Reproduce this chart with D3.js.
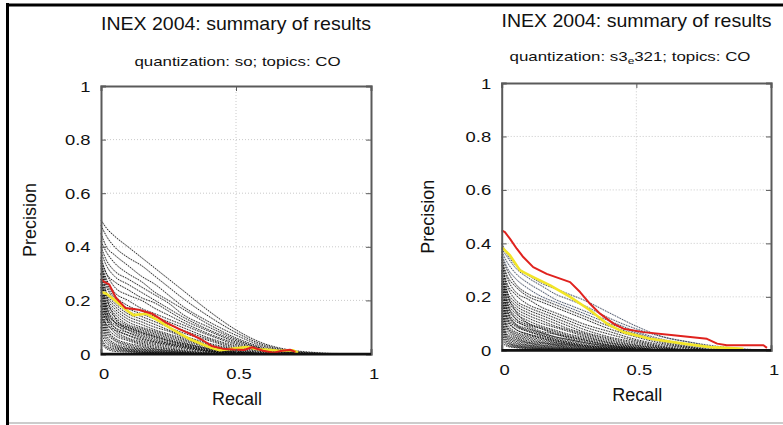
<!DOCTYPE html>
<html><head><meta charset="utf-8">
<script src="https://cdn.jsdelivr.net/npm/d3@7"></script>
<style>body{margin:0;background:#fff}svg{display:block}text{font-family:"Liberation Sans",Arial,sans-serif;fill:#111}</style>
</head><body><svg id="c" width="783" height="425"></svg>
<script>
// ---------- data ----------
const titleText = "INEX 2004: summary of results";
const leftSubtitle = "quantization: so; topics: CO";
const rightSubtitleParts = ["quantization: s3", "e", "321; topics: CO"];
const xTicks = [0, 0.5, 1];
const xTickLabels = ["0", "0.5", "1"];
const yTicks = [0, 0.2, 0.4, 0.6, 0.8, 1];
const yTickLabels = ["0", "0.2", "0.4", "0.6", "0.8", "1"];
const xLabel = "Recall";
const yLabel = "Precision";

// recall points shared by the (black, dotted) runs
const recallGrid = [0, 0.02, 0.05, 0.1, 0.15, 0.2, 0.25, 0.3, 0.4, 0.5, 0.6, 0.7, 0.8, 0.9, 1];

const leftRuns = [
  [0.50,0.47,0.44,0.40,0.36,0.32,0.28,0.24,0.16,0.09,0.04,0.015,0.005,0],
  [0.48,0.44,0.40,0.36,0.33,0.29,0.25,0.21,0.14,0.08,0.035,0.012,0.003,0],
  [0.45,0.40,0.37,0.33,0.29,0.26,0.22,0.18,0.12,0.07,0.03,0.01,0.002,0],
  [0.42,0.38,0.34,0.30,0.27,0.23,0.20,0.17,0.11,0.06,0.025,0.008,0],
  [0.40,0.35,0.31,0.28,0.25,0.22,0.19,0.15,0.10,0.055,0.02,0.006,0],
  [0.38,0.33,0.29,0.26,0.23,0.20,0.17,0.14,0.09,0.05,0.02,0.005,0],
  [0.36,0.30,0.27,0.24,0.21,0.19,0.16,0.13,0.085,0.045,0.018,0.004,0],
  [0.35,0.30,0.25,0.22,0.20,0.17,0.145,0.12,0.075,0.04,0.015,0.003,0],
  [0.34,0.28,0.23,0.20,0.17,0.15,0.13,0.11,0.07,0.035,0.012,0],
  [0.33,0.27,0.22,0.18,0.16,0.14,0.12,0.10,0.06,0.03,0.01,0],
  [0.32,0.26,0.21,0.17,0.15,0.13,0.11,0.09,0.055,0.025,0.008,0],
  [0.30,0.25,0.20,0.16,0.14,0.12,0.10,0.08,0.05,0.02,0.005,0],
  [0.30,0.23,0.19,0.15,0.13,0.11,0.09,0.07,0.04,0.018,0.004,0],
  [0.28,0.22,0.18,0.14,0.12,0.10,0.085,0.065,0.035,0.015,0],
  [0.27,0.21,0.17,0.13,0.11,0.09,0.075,0.06,0.03,0.012,0],
  [0.26,0.20,0.16,0.12,0.10,0.085,0.07,0.055,0.028,0.01,0],
  [0.25,0.19,0.15,0.11,0.095,0.08,0.065,0.05,0.025,0.008,0],
  [0.24,0.18,0.14,0.105,0.09,0.075,0.06,0.045,0.02,0.006,0],
  [0.23,0.17,0.13,0.10,0.085,0.07,0.055,0.04,0.018,0.005,0],
  [0.22,0.16,0.12,0.095,0.08,0.065,0.05,0.035,0.015,0.004,0],
  [0.35,0.22,0.14,0.09,0.07,0.055,0.04,0.03,0.012,0.003,0],
  [0.30,0.18,0.12,0.08,0.06,0.045,0.035,0.025,0.01,0],
  [0.28,0.16,0.10,0.07,0.05,0.04,0.03,0.02,0.008,0],
  [0.25,0.14,0.09,0.06,0.045,0.035,0.025,0.015,0.005,0],
  [0.22,0.13,0.08,0.055,0.04,0.03,0.02,0.012,0.004,0],
  [0.20,0.11,0.07,0.05,0.035,0.025,0.018,0.01,0.003,0],
  [0.18,0.10,0.06,0.04,0.03,0.02,0.014,0.008,0],
  [0.16,0.09,0.055,0.035,0.025,0.018,0.012,0.006,0],
  [0.15,0.08,0.05,0.03,0.02,0.015,0.01,0.005,0],
  [0.13,0.07,0.04,0.025,0.018,0.012,0.008,0.004,0],
  [0.12,0.06,0.035,0.02,0.015,0.01,0.006,0.003,0],
  [0.10,0.05,0.03,0.018,0.012,0.008,0.005,0.002,0],
  [0.08,0.04,0.025,0.015,0.01,0.006,0.004,0],
  [0.06,0.03,0.02,0.012,0.008,0.005,0.003,0],
  [0.05,0.025,0.015,0.01,0.006,0.004,0],
  [0.04,0.02,0.01,0.007,0.005,0.003,0],
  [0.20,0.15,0.12,0.10,0.08,0.065,0.05,0.04,0.02,0.008,0],
  [0.18,0.14,0.11,0.09,0.075,0.06,0.045,0.035,0.015,0.005,0],
  [0.16,0.13,0.10,0.08,0.065,0.05,0.04,0.03,0.012,0.003,0],
  [0.14,0.11,0.09,0.07,0.055,0.045,0.035,0.025,0.01,0]
];

const rightRuns = [
  [0.40,0.36,0.32,0.28,0.25,0.23,0.21,0.19,0.14,0.09,0.05,0.03,0.015,0.005,0],
  [0.38,0.35,0.31,0.27,0.24,0.21,0.19,0.17,0.12,0.08,0.05,0.03,0.01,0],
  [0.37,0.33,0.29,0.25,0.22,0.19,0.17,0.15,0.11,0.07,0.04,0.02,0.008,0],
  [0.36,0.31,0.27,0.23,0.20,0.18,0.16,0.14,0.10,0.065,0.035,0.015,0.005,0],
  [0.35,0.30,0.25,0.21,0.19,0.17,0.15,0.13,0.09,0.06,0.03,0.012,0],
  [0.34,0.28,0.24,0.20,0.18,0.16,0.14,0.12,0.08,0.05,0.025,0.01,0],
  [0.33,0.27,0.22,0.19,0.16,0.14,0.12,0.10,0.07,0.04,0.02,0.008,0],
  [0.32,0.25,0.21,0.17,0.15,0.13,0.11,0.09,0.06,0.035,0.015,0.005,0],
  [0.30,0.24,0.19,0.16,0.14,0.12,0.10,0.08,0.05,0.03,0.012,0],
  [0.29,0.22,0.18,0.15,0.13,0.11,0.09,0.07,0.045,0.025,0.01,0],
  [0.28,0.21,0.17,0.14,0.12,0.10,0.08,0.065,0.04,0.02,0.008,0],
  [0.27,0.20,0.16,0.13,0.11,0.09,0.075,0.06,0.035,0.018,0.006,0],
  [0.26,0.19,0.15,0.12,0.10,0.085,0.07,0.055,0.03,0.015,0.005,0],
  [0.25,0.18,0.14,0.11,0.09,0.075,0.06,0.05,0.028,0.012,0],
  [0.24,0.17,0.13,0.10,0.085,0.07,0.055,0.045,0.025,0.01,0],
  [0.23,0.16,0.12,0.095,0.08,0.065,0.05,0.04,0.02,0.008,0],
  [0.22,0.15,0.11,0.09,0.07,0.06,0.045,0.035,0.018,0.006,0],
  [0.21,0.14,0.10,0.08,0.065,0.05,0.04,0.03,0.015,0.005,0],
  [0.20,0.13,0.095,0.075,0.06,0.045,0.035,0.025,0.012,0.004,0],
  [0.19,0.12,0.09,0.07,0.055,0.04,0.03,0.02,0.01,0.003,0],
  [0.18,0.11,0.08,0.06,0.05,0.035,0.025,0.018,0.008,0],
  [0.17,0.10,0.07,0.055,0.045,0.03,0.022,0.015,0.006,0],
  [0.16,0.09,0.065,0.05,0.04,0.028,0.02,0.012,0.005,0],
  [0.15,0.085,0.06,0.045,0.035,0.025,0.018,0.01,0.004,0],
  [0.14,0.08,0.055,0.04,0.03,0.022,0.015,0.008,0.003,0],
  [0.13,0.07,0.05,0.035,0.028,0.02,0.012,0.006,0],
  [0.12,0.06,0.045,0.03,0.025,0.018,0.01,0.005,0],
  [0.11,0.055,0.04,0.028,0.02,0.015,0.008,0.004,0],
  [0.10,0.05,0.035,0.025,0.018,0.012,0.006,0.003,0],
  [0.09,0.045,0.03,0.02,0.015,0.01,0.005,0],
  [0.08,0.04,0.025,0.018,0.012,0.008,0.004,0],
  [0.07,0.035,0.02,0.015,0.01,0.006,0.003,0],
  [0.06,0.03,0.018,0.012,0.008,0.005,0],
  [0.05,0.025,0.015,0.01,0.006,0.004,0],
  [0.04,0.02,0.012,0.008,0.005,0.003,0],
  [0.03,0.015,0.01,0.006,0.004,0],
  [0.35,0.22,0.15,0.10,0.08,0.06,0.05,0.04,0.02,0.01,0],
  [0.30,0.18,0.12,0.085,0.065,0.05,0.04,0.03,0.015,0.005,0],
  [0.25,0.15,0.10,0.07,0.055,0.04,0.03,0.02,0.01,0],
  [0.20,0.12,0.08,0.06,0.045,0.035,0.025,0.015,0.005,0]
];

const leftRedRecall = [0,0.01,0.03,0.055,0.09,0.14,0.19,0.24,0.29,0.33,0.37,0.41,0.45,0.49,0.53,0.56,0.6,0.64,0.67,0.7,0.72];
const leftRedPrec   = [0.28,0.27,0.26,0.21,0.172,0.165,0.15,0.118,0.093,0.075,0.055,0.03,0.02,0.017,0.015,0.025,0.012,0.005,0.012,0.016,0.008];
const leftYellowRecall = [0,0.02,0.046,0.07,0.095,0.12,0.145,0.17,0.22,0.26,0.29,0.33,0.37,0.41,0.44,0.49,0.54,0.58,0.61,0.66,0.71,0.73];
const leftYellowPrec   = [0.232,0.225,0.205,0.185,0.163,0.145,0.148,0.15,0.12,0.095,0.077,0.055,0.038,0.022,0.014,0.02,0.026,0.018,0.017,0.012,0.014,0.005];
const rightRedRecall = [0,0.012,0.031,0.056,0.08,0.117,0.167,0.217,0.254,0.291,0.328,0.365,0.415,0.452,0.526,0.638,0.762,0.8,0.836,0.972,0.985];
const rightRedPrec   = [0.449,0.442,0.417,0.38,0.349,0.311,0.286,0.268,0.255,0.218,0.174,0.137,0.1,0.081,0.068,0.056,0.043,0.025,0.019,0.019,0.009];
const rightYellowRecall = [0,0.031,0.068,0.117,0.18,0.254,0.328,0.39,0.452,0.551,0.675,0.774,0.898];
const rightYellowPrec   = [0.386,0.355,0.299,0.274,0.243,0.2,0.15,0.1,0.068,0.043,0.025,0.012,0.006];

// ---------- drawing ----------
const svg = d3.select("#c");
svg.append("rect").attr("width",783).attr("height",425).attr("fill","#fff");
// outer frame
svg.append("line").attr("x1",7.5).attr("x2",7.5).attr("y1",3).attr("y2",425).attr("stroke","#000").attr("stroke-width",3);
svg.append("line").attr("x1",6).attr("x2",783).attr("y1",5).attr("y2",5).attr("stroke","#000").attr("stroke-width",3);
svg.append("line").attr("x1",9).attr("x2",783).attr("y1",423).attr("y2",423).attr("stroke","#bbb").attr("stroke-width",1.5);

function stext(g, x, y, str, size, sx, anchor){
  return g.append("text").attr("transform",`translate(${x},${y}) scale(${sx},1)`)
    .attr("text-anchor",anchor||"middle").attr("font-size",size).text(str);
}

function panel(cfg){
  const g = svg.append("g");
  const x = d3.scaleLinear().domain([0,1]).range([cfg.x0, cfg.x1]);
  const y = d3.scaleLinear().domain([0,1]).range([cfg.y0, cfg.y1]);
  // grid
  g.append("g").selectAll("line").data(yTicks.filter(v=>v>0&&v<1)).join("line")
    .attr("x1",cfg.x0).attr("x2",cfg.x1).attr("y1",d=>y(d)).attr("y2",d=>y(d))
    .attr("stroke","#bdbdbd").attr("stroke-width",0.8).attr("stroke-dasharray","1,2");
  g.append("g").selectAll("line").data(xTicks.filter(v=>v>0&&v<1)).join("line")
    .attr("y1",cfg.y0).attr("y2",cfg.y1).attr("x1",d=>x(d)).attr("x2",d=>x(d))
    .attr("stroke","#bdbdbd").attr("stroke-width",0.8).attr("stroke-dasharray","1,2");
  // runs
  const line = d3.line().x(d=>x(d[0])).y(d=>y(d[1])).curve(d3.curveMonotoneX);
  const runs = g.append("g");
  // soft grey halo under the dotted runs
  runs.selectAll("path.h").data(cfg.runs).join("path").attr("class","h")
    .attr("d", r => line(r.map((p,i)=>[recallGrid[i], p])))
    .attr("fill","none").attr("stroke","#9a9a9a").attr("stroke-width",1.6).attr("stroke-opacity",0.25);
  runs.selectAll("path.r").data(cfg.runs).join("path").attr("class","r")
    .attr("d", r => line(r.map((p,i)=>[recallGrid[i], p])))
    .attr("fill","none").attr("stroke",(d,i)=> i<cfg.blueN ? "#33415e" : "#0a0a0a")
    .attr("stroke-width",1).attr("stroke-opacity",0.85).attr("stroke-dasharray","1.5,1.2");
  const jag = d3.line().x(d=>x(d[0])).y(d=>y(d[1]));
  g.append("path").attr("d", jag(cfg.yr.map((r,i)=>[r,cfg.yp[i]])))
    .attr("fill","none").attr("stroke","#f2e528").attr("stroke-width",2.6).attr("stroke-linejoin","round");
  g.append("path").attr("d", jag(cfg.rr.map((r,i)=>[r,cfg.rp[i]])))
    .attr("fill","none").attr("stroke","#e0221e").attr("stroke-width",2).attr("stroke-linejoin","round");
  // frame with inner ticks via axes
  const axL = g.append("g").attr("transform",`translate(${cfg.x0},0)`).call(d3.axisRight(y).tickValues(yTicks).tickSize(5).tickFormat(""));
  const axR = g.append("g").attr("transform",`translate(${cfg.x1},0)`).call(d3.axisLeft(y).tickValues(yTicks).tickSize(5).tickFormat(""));
  const axB = g.append("g").attr("transform",`translate(0,${cfg.y0})`).call(d3.axisTop(x).tickValues(xTicks).tickSize(5).tickFormat(""));
  const axT = g.append("g").attr("transform",`translate(0,${cfg.y1})`).call(d3.axisBottom(x).tickValues(xTicks).tickSize(5).tickFormat(""));
  [axL,axR,axB,axT].forEach(a=>{
    a.select(".domain").attr("stroke","#5a5a5a").attr("stroke-width",2);
    a.selectAll(".tick line").attr("stroke","#5a5a5a").attr("stroke-width",1);
  });
  g.append("line").attr("x1",cfg.x0).attr("x2",cfg.x1).attr("y1",cfg.y0).attr("y2",cfg.y0).attr("stroke","#111").attr("stroke-width",2.5);
  // tick labels
  yTicks.forEach((v,i)=> stext(g, cfg.x0-10.5, y(v)+5.5, yTickLabels[i], 14.5, 1.27, "end"));
  xTicks.forEach((v,i)=> stext(g, x(v)+3, cfg.y0+25, xTickLabels[i], 14.5, 1.27, "middle"));
  // axis titles
  stext(g, (cfg.x0+cfg.x1)/2+1, cfg.y0+51, xLabel, 18, 1.0, "middle");
  g.append("text").attr("transform",`translate(${cfg.ylx},${(cfg.y0+cfg.y1)/2}) rotate(-90)`)
    .attr("text-anchor","middle").attr("font-size",18).text(yLabel);
  // titles
  stext(g, cfg.tx, cfg.ty, titleText, 18, 1.085, "middle");
  return g;
}

const gl = panel({x0:101, x1:371, y0:354, y1:86, runs:leftRuns, blueN:0,
  rr:leftRedRecall, rp:leftRedPrec, yr:leftYellowRecall, yp:leftYellowPrec,
  ylx:36, tx:236, ty:29.5});
stext(gl, 237.5, 65.5, leftSubtitle, 13.5, 1.25, "middle");

const gr = panel({x0:501.7, x1:771, y0:350.3, y1:83, runs:rightRuns, blueN:4,
  rr:rightRedRecall, rp:rightRedPrec, yr:rightYellowRecall, yp:rightYellowPrec,
  ylx:433.5, tx:636.5, ty:26.5});
const st = gr.append("text").attr("transform","translate(630,60.5) scale(1.25,1)")
  .attr("text-anchor","middle").attr("font-size",13.5);
st.append("tspan").text(rightSubtitleParts[0]);
st.append("tspan").attr("font-size",9.5).attr("dy",3).text(rightSubtitleParts[1]);
st.append("tspan").attr("dy",-3).text(rightSubtitleParts[2]);
</script></body></html>
